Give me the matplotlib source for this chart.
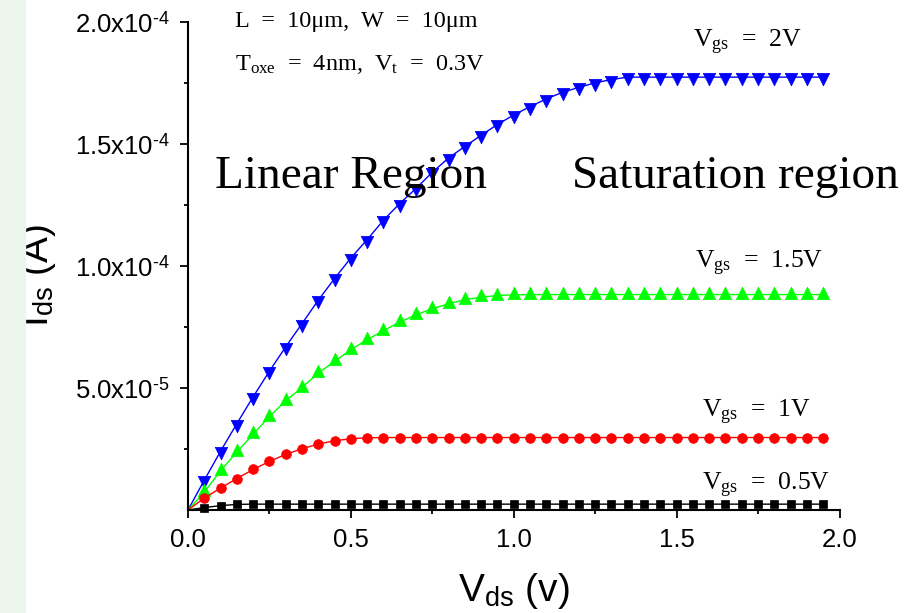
import matplotlib.pyplot as plt
from matplotlib.patches import Rectangle

plt.rcParams['font.family'] = ['Liberation Sans', 'DejaVu Sans']
plt.rcParams['mathtext.fontset'] = 'custom'
plt.rcParams['mathtext.rm'] = 'Liberation Serif'
plt.rcParams['mathtext.sf'] = 'Liberation Sans'
plt.rcParams['mathtext.it'] = 'Liberation Serif:italic'

# drain-source voltage (V)
vds = [0.00, 0.05, 0.10, 0.15, 0.20, 0.25, 0.30, 0.35, 0.40, 0.45,
       0.50, 0.55, 0.60, 0.65, 0.70, 0.75, 0.80, 0.85, 0.90, 0.95,
       1.00, 1.05, 1.10, 1.15, 1.20, 1.25, 1.30, 1.35, 1.40, 1.45,
       1.50, 1.55, 1.60, 1.65, 1.70, 1.75, 1.80, 1.85, 1.90, 1.95]

# drain current in micro-amps
ids_vgs2 = [0.0, 12.2, 24.1, 35.4, 46.4, 56.9, 66.9, 76.4, 86.0, 94.9,
            103.3, 110.8, 118.8, 125.6, 131.8, 138.4, 144.3, 149.0, 153.6, 158.0,
            161.9, 165.3, 168.5, 171.2, 173.2, 175.1, 176.4, 177.4, 177.4, 177.4,
            177.4, 177.4, 177.4, 177.4, 177.4, 177.4, 177.4, 177.4, 177.4, 177.4]
ids_vgs15 = [0.0, 7.3, 16.1, 23.7, 31.1, 38.3, 44.8, 50.2, 56.1, 60.9,
             65.7, 69.8, 73.5, 77.0, 80.0, 82.5, 84.5, 86.2, 87.2, 87.9,
             88.2, 88.3, 88.3, 88.3, 88.3, 88.3, 88.3, 88.3, 88.3, 88.3,
             88.3, 88.3, 88.3, 88.3, 88.3, 88.3, 88.3, 88.3, 88.3, 88.3]
ids_vgs1 = [0.0, 4.9, 9.0, 12.9, 16.6, 19.9, 22.8, 25.1, 27.0, 28.4,
            29.2, 29.6, 29.7, 29.7, 29.7, 29.7, 29.7, 29.7, 29.7, 29.7,
            29.7, 29.7, 29.7, 29.7, 29.7, 29.7, 29.7, 29.7, 29.7, 29.7,
            29.7, 29.7, 29.7, 29.7, 29.7, 29.7, 29.7, 29.7, 29.7, 29.7]
ids_vgs05 = [0.0, 1.0, 1.8, 2.3, 2.4, 2.4, 2.4, 2.4, 2.4, 2.4,
             2.4, 2.4, 2.4, 2.4, 2.4, 2.4, 2.4, 2.4, 2.4, 2.4,
             2.4, 2.4, 2.4, 2.4, 2.4, 2.4, 2.4, 2.4, 2.4, 2.4,
             2.4, 2.4, 2.4, 2.4, 2.4, 2.4, 2.4, 2.4, 2.4, 2.4]

xticks = [0.0, 0.5, 1.0, 1.5, 2.0]
xtick_labels = ['0.0', '0.5', '1.0', '1.5', '2.0']
yticks = [5e-5, 1e-4, 1.5e-4, 2e-4]
ytick_labels = ['5.0x10$^{\\mathsf{\u20105}}$', '1.0x10$^{\\mathsf{\u20104}}$',
                '1.5x10$^{\\mathsf{\u20104}}$', '2.0x10$^{\\mathsf{\u20104}}$']

W, H = 915, 613
fig = plt.figure(figsize=(W / 100, H / 100), dpi=100)

# faint green slide background strip on the left
fig.patches.append(Rectangle((0, 0), 25 / W, 1, transform=fig.transFigure,
                             color='#edf6ed', zorder=0))

ax = fig.add_axes([188 / W, 103 / H, 651.5 / W, 488 / H])

# triangles centred on their centroid (like Origin)
tri_down = [(-1, 0.667), (1, 0.667), (0, -1.333), (-1, 0.667)]
tri_up = [(-1, -0.667), (1, -0.667), (0, 1.333), (-1, -0.667)]

def amps(vals):
    return [v * 1e-6 for v in vals]

ax.plot(vds, amps(ids_vgs2), color='#0000ff', lw=1, marker=tri_down, ms=12,
        mec='#0000ff', mew=0.5, markevery=slice(1, None), clip_on=False)
ax.plot(vds, amps(ids_vgs15), color='#00ff00', lw=1, marker=tri_up, ms=12,
        mec='#00ff00', mew=0.5, markevery=slice(1, None), clip_on=False)
ax.plot(vds, amps(ids_vgs1), color='#ff0000', lw=1, marker='o', ms=7,
        mec='#ff0000', mew=0.5, markevery=slice(1, None), clip_on=False)
ax.plot(vds, amps(ids_vgs05), color='black', lw=1, marker='s', ms=6,
        mec='black', mew=0.5, markevery=slice(1, None), clip_on=False)

ax.set_xlim(0, 2.0)
ax.set_ylim(0, 2.0e-4)
ax.spines[['top', 'right']].set_visible(False)
ax.spines[['left', 'bottom']].set_linewidth(1.5)

ax.set_xticks(xticks)
ax.set_xticklabels(xtick_labels)
ax.set_xticks([0.25, 0.75, 1.25, 1.75], minor=True)
ax.set_yticks(yticks)
ax.set_yticklabels(ytick_labels)
ax.set_yticks([2.5e-5, 7.5e-5, 1.25e-4, 1.75e-4], minor=True)
ax.tick_params(which='major', direction='out', length=6, width=1.3, labelsize=18.5)
ax.tick_params(which='minor', direction='out', length=3, width=1.3)
ax.tick_params(axis='x', pad=7)
ax.tick_params(axis='y', pad=7)

ax.set_xlabel('V$_{\\mathsf{ds}}$ (v)', fontsize=28)
ax.set_ylabel('I$_{\\mathsf{ds}}$ (A)', fontsize=28)
ax.xaxis.set_label_coords(0.5, -0.125)
ax.yaxis.set_label_coords(-0.2, 0.48)

def note(x, y, s, size):
    fig.text(x / W, 1 - y / H, s, fontsize=size, family='Liberation Serif',
             va='baseline', ha='left')

note(235, 27, 'L  =  10\u03bcm,  W  =  10\u03bcm', 17.5)
note(235, 70, 'T$_{\\mathrm{oxe}}$  =  4nm,  V$_{\\mathrm{t}}$  =  0.3V', 17.5)
note(215, 188, 'Linear Region', 34)
note(572, 188, 'Saturation region', 34)
note(693, 47, 'V$_{\\mathrm{gs}}$  =  2V', 18.5)
note(695, 268, 'V$_{\\mathrm{gs}}$  =  1.5V', 18.5)
note(702, 417, 'V$_{\\mathrm{gs}}$  =  1V', 18.5)
note(702, 490, 'V$_{\\mathrm{gs}}$  =  0.5V', 18.5)

fig.savefig('out.png', dpi=100)
